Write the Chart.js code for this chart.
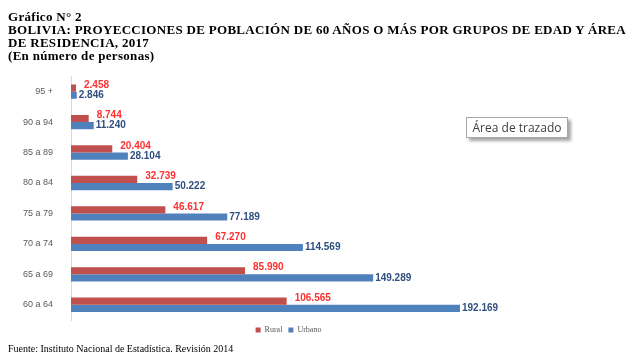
<!DOCTYPE html>
<html>
<head>
<meta charset="utf-8">
<script src="https://cdn.jsdelivr.net/npm/chart.js@4"></script>
<style>
  body { margin: 0; width: 640px; height: 362px; background: #fff; position: relative; overflow: hidden; }
  .titulo { position: absolute; left: 8px; top: 10px; font-family: "Liberation Serif", serif; font-weight: bold; font-size: 13px; letter-spacing: 0.3px; line-height: 13px; color: #000; white-space: nowrap; z-index: 2; }
  .fuente { position: absolute; left: 8px; top: 343px; font-family: "Liberation Serif", serif; font-size: 10px; color: #000; }
  .trazado { position: absolute; left: 466px; top: 117px; width: 100px; height: 19px; border: 1px solid #a6a6a6; background: #fff;
             box-shadow: 3px 3px 3px rgba(0,0,0,0.35); font-family: "Open Sans", sans-serif; font-size: 12px; line-height: 19px; color: #404040; text-align: center; }
  #wrap { position: absolute; left: 0; top: 61px; width: 592px; height: 287px; }
</style>
</head>
<body>
<div id="wrap"><canvas id="graphCanvas"></canvas></div>
<div class="titulo">Gráfico N° 2<br>BOLIVIA: PROYECCIONES DE POBLACIÓN DE 60 AÑOS O MÁS POR GRUPOS DE EDAD Y ÁREA<br>DE RESIDENCIA, 2017<br>(En número de personas)</div>
<div class="trazado">Área de trazado</div>
<div class="fuente">Fuente: Instituto Nacional de Estadística. Revisión 2014</div>
<script>
const grupos = ['95 +', '90 a 94', '85 a 89', '80 a 84', '75 a 79', '70 a 74', '65 a 69', '60 a 64'];
const rural = [2458, 8744, 20404, 32739, 46617, 67270, 85990, 106565];
const urbano = [2846, 11240, 28104, 50222, 77189, 114569, 149289, 192169];

function fmt(v) {
    return v.toString().replace(/\B(?=(\d{3})+(?!\d))/g, '.');
}

// etiquetas de valor al final de cada barra
const etiquetas = {
    id: 'etiquetas',
    afterDatasetsDraw(chart) {
        const ctx = chart.ctx;
        ctx.save();
        ctx.font = 'bold 10px "Liberation Sans", sans-serif';
        ctx.textBaseline = 'middle';
        ctx.textAlign = 'left';
        chart.data.datasets.forEach((ds, i) => {
            const meta = chart.getDatasetMeta(i);
            meta.data.forEach((bar, j) => {
                if (i === 0) {
                    ctx.fillStyle = '#ff3030';
                    ctx.fillText(fmt(ds.data[j]), bar.x + 8, bar.y - 3);
                } else {
                    ctx.fillStyle = '#2f4f7f';
                    ctx.fillText(fmt(ds.data[j]), bar.x + 2, bar.y);
                }
            });
        });
        ctx.restore();
    }
};

const ctx = document.getElementById('graphCanvas');
new Chart(ctx, {
    type: 'bar',
    data: {
        labels: grupos,
        datasets: [{
            label: 'Rural',
            data: rural,
            backgroundColor: '#c0504d',
            categoryPercentage: 0.47,
            barPercentage: 1
        }, {
            label: 'Urbano',
            data: urbano,
            backgroundColor: '#4f81bd',
            categoryPercentage: 0.47,
            barPercentage: 1
        }]
    },
    options: {
        indexAxis: 'y',
        responsive: true,
        maintainAspectRatio: false,
        animation: false,
        layout: {
            padding: { top: 7, right: 15, bottom: 4, left: 0 }
        },
        plugins: {
            tooltip: { enabled: false },
            legend: {
                position: 'bottom',
                labels: {
                    boxWidth: 5,
                    boxHeight: 5,
                    padding: 6,
                    color: '#595959',
                    font: { family: '"Liberation Serif", serif', size: 8 }
                }
            }
        },
        scales: {
            x: {
                display: false,
                min: 0,
                max: 250000
            },
            y: {
                grid: { display: false },
                border: { display: true, color: '#d9d9d9', width: 1 },
                ticks: {
                    padding: 10,
                    color: '#595959',
                    font: { family: '"Liberation Sans", sans-serif', size: 9 }
                },
                afterFit: function (axis) {
                    axis.width = 71;
                }
            }
        }
    },
    plugins: [etiquetas]
});
</script>
</body>
</html>
